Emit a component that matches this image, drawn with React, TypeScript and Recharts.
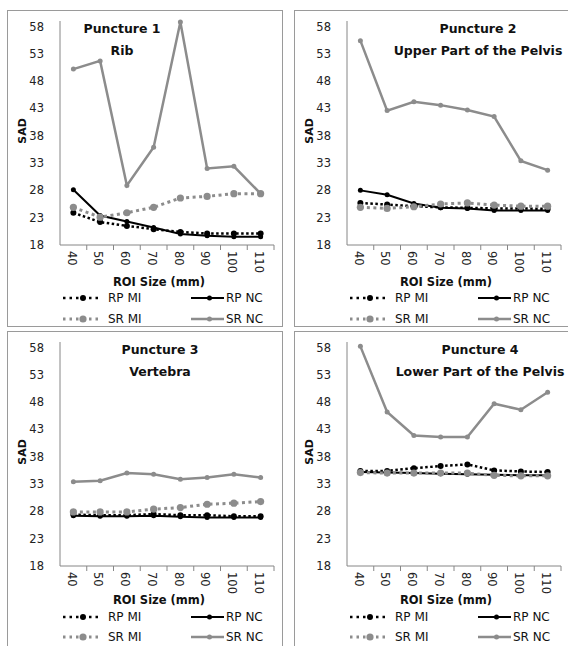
import React from 'react';
import { LineChart, Line, XAxis, YAxis, Legend } from 'recharts';

const roiSizes = ['40', '50', '60', '70', '80', '90', '100', '110'];
const sadTicks = [18, 23, 28, 33, 38, 43, 48, 53, 58];

// Puncture 1 - Rib
const ribRpMi = [23.9, 22.2, 21.5, 20.9, 20.4, 20.1, 20.1, 20.1];
const ribRpNc = [28.1, 23.4, 22.3, 21.2, 20.0, 19.7, 19.5, 19.5];
const ribSrMi = [24.9, 23.1, 23.9, 24.9, 26.6, 26.9, 27.4, 27.4];
const ribSrNc = [50.2, 51.7, 28.9, 35.9, 58.8, 32.0, 32.4, 27.4];

// Puncture 2 - Upper Part of the Pelvis
const upperRpMi = [25.7, 25.4, 25.1, 24.9, 24.8, 24.7, 24.7, 24.6];
const upperRpNc = [28.0, 27.2, 25.6, 24.8, 24.7, 24.3, 24.3, 24.3];
const upperSrMi = [24.9, 24.7, 25.0, 25.5, 25.7, 25.3, 25.1, 25.1];
const upperSrNc = [55.4, 42.6, 44.2, 43.6, 42.7, 41.5, 33.4, 31.7];

// Puncture 3 - Vertebra
const vertRpMi = [27.4, 27.3, 27.3, 27.5, 27.3, 27.3, 27.1, 27.1];
const vertRpNc = [27.2, 27.1, 27.1, 27.2, 27.0, 26.9, 26.9, 26.9];
const vertSrMi = [27.9, 27.9, 27.9, 28.4, 28.7, 29.3, 29.5, 29.8];
const vertSrNc = [33.4, 33.6, 35.0, 34.8, 33.9, 34.2, 34.8, 34.2];

// Puncture 4 - Lower Part of the Pelvis
const lowerRpMi = [35.4, 35.4, 35.9, 36.3, 36.6, 35.5, 35.3, 35.2];
const lowerRpNc = [35.2, 35.1, 35.0, 34.9, 34.8, 34.7, 34.6, 34.6];
const lowerSrMi = [35.1, 35.0, 35.0, 35.0, 35.0, 34.6, 34.5, 34.5];
const lowerSrNc = [58.2, 46.2, 41.9, 41.6, 41.6, 47.7, 46.6, 49.8];

const FONT = '"DejaVu Sans", sans-serif';
const GRAY = '#8c8c8c';
const AXIS = '#868686';

const W = 276;
const H = 317;
const LEFT = 53;
const RIGHT = 9;
const TOP = 11;
const XH = 82;
const BAND = (W - LEFT - RIGHT) / roiSizes.length;

const SERIES = [
  { key: 'rpMi', name: 'RP MI', color: '#000', width: 2.5, dash: '2.5 2.5', r: 3 },
  { key: 'rpNc', name: 'RP NC', color: '#000', width: 2, dash: undefined, r: 2.5 },
  { key: 'srMi', name: 'SR MI', color: GRAY, width: 3, dash: '3 3.5', r: 3.6 },
  { key: 'srNc', name: 'SR NC', color: GRAY, width: 2.5, dash: undefined, r: 2.5 },
];

const makeRows = (rpMi: number[], rpNc: number[], srMi: number[], srNc: number[]) =>
  roiSizes.map((roi, i) => ({ roi, rpMi: rpMi[i], rpNc: rpNc[i], srMi: srMi[i], srNc: srNc[i] }));

const panels = [
  { left: 7, top: 10, title: ['Puncture 1', 'Rib'], cx: 114, axisTitleY: 37, legendY: [288, 309], rows: makeRows(ribRpMi, ribRpNc, ribSrMi, ribSrNc) },
  { left: 294, top: 10, title: ['Puncture 2', 'Upper Part of the Pelvis'], cx: 183, axisTitleY: 37, legendY: [288, 309], rows: makeRows(upperRpMi, upperRpNc, upperSrMi, upperSrNc) },
  { left: 7, top: 331, title: ['Puncture 3', 'Vertebra'], cx: 152, axisTitleY: 34, legendY: [286, 306], rows: makeRows(vertRpMi, vertRpNc, vertSrMi, vertSrNc) },
  { left: 294, top: 331, title: ['Puncture 4', 'Lower Part of the Pelvis'], cx: 185, axisTitleY: 34, legendY: [286, 306], rows: makeRows(lowerRpMi, lowerRpNc, lowerSrMi, lowerSrNc) },
];

const XTick = (props: any) => {
  const { x, y, payload } = props;
  return (
    <g>
      <line x1={x + BAND / 2} y1={y} x2={x + BAND / 2} y2={y + 5} stroke={AXIS} strokeWidth={1} />
      <text
        transform={`translate(${x},${y + 6}) rotate(90)`}
        dy="0.5em"
        textAnchor="start"
        fontSize={11.5}
        fontFamily={FONT}
        fill="#222"
      >
        {payload.value}
      </text>
    </g>
  );
};

const legendPos = [
  { line: 56, len: 36, text: 101 },
  { line: 184, len: 33, text: 219 },
];

const makeLegend = (rowY: number[]) => () => (
  <div style={{ position: 'relative', width: W, height: 0 }}>
    {SERIES.map((s, i) => {
      const p = legendPos[i % 2];
      const cy = i < 2 ? rowY[0] : rowY[1];
      return (
        <React.Fragment key={s.key}>
          <svg
            width={p.len}
            height={10}
            style={{ position: 'absolute', left: p.line, top: cy - 5, overflow: 'visible' }}
          >
            <line
              x1={0}
              y1={5}
              x2={p.len}
              y2={5}
              stroke={s.color}
              strokeWidth={s.width}
              strokeDasharray={s.dash ? '2.5 4' : undefined}
            />
            <circle cx={p.len / 2 + 2} cy={5} r={s.r} fill={s.color} />
          </svg>
          <span
            style={{
              position: 'absolute',
              left: p.text,
              top: cy - 7,
              fontSize: 12,
              lineHeight: '14px',
              fontFamily: FONT,
              color: '#111',
              whiteSpace: 'nowrap',
            }}
          >
            {s.name}
          </span>
        </React.Fragment>
      );
    })}
  </div>
);

const Panel = ({ panel }: { panel: (typeof panels)[number] }) => (
  <div
    style={{
      position: 'absolute',
      left: panel.left,
      top: panel.top,
      width: W,
      height: H,
      border: '1px solid #9a9a9a',
      boxSizing: 'border-box',
      background: '#fff',
    }}
  >
    <div style={{ position: 'absolute', left: -1, top: -1 }}>
      <LineChart
        width={W}
        height={H}
        data={panel.rows}
        margin={{ top: TOP, right: RIGHT, bottom: 0, left: 0 }}
      >
        <XAxis
          dataKey="roi"
          interval={0}
          height={XH}
          padding={{ left: BAND / 2, right: BAND / 2 }}
          tickLine={false}
          tickSize={0}
          tickMargin={0}
          axisLine={{ stroke: AXIS }}
          tick={<XTick />}
          label={({ viewBox }: any) => (
            <text
              x={viewBox.x + viewBox.width / 2 - 8}
              y={viewBox.y + panel.axisTitleY}
              textAnchor="middle"
              dominantBaseline="central"
              fontSize={11.5}
              fontWeight="bold"
              fontFamily={FONT}
              fill="#111"
            >
              ROI Size (mm)
            </text>
          )}
        />
        <YAxis
          type="number"
          domain={[18, 59]}
          ticks={sadTicks}
          width={LEFT}
          tickLine={false}
          tickSize={0}
          tickMargin={16}
          axisLine={{ stroke: AXIS }}
          tick={{ fontSize: 11.5, fontFamily: FONT, fill: '#222' }}
          label={() => (
            <text
              transform={`translate(15,${TOP + 110}) rotate(-90)`}
              textAnchor="middle"
              dominantBaseline="central"
              fontSize={11}
              fontWeight="bold"
              fontFamily={FONT}
              fill="#111"
            >
              SAD
            </text>
          )}
        />
        <Legend content={makeLegend(panel.legendY)} wrapperStyle={{ left: 0, top: 0, width: W, height: 0 }} />
        {SERIES.map((s) => (
          <Line
            key={s.key}
            type="linear"
            dataKey={s.key}
            name={s.name}
            stroke={s.color}
            strokeWidth={s.width}
            strokeDasharray={s.dash}
            dot={{ r: s.r, fill: s.color, stroke: s.color, strokeWidth: 0, strokeDasharray: '' }}
            isAnimationActive={false}
          />
        ))}
      </LineChart>
    </div>
    {panel.title.map((t, i) => (
      <div
        key={t}
        style={{
          position: 'absolute',
          left: panel.cx - 150,
          width: 300,
          top: (i === 0 ? 18 : 40) - 9,
          height: 18,
          lineHeight: '18px',
          textAlign: 'center',
          fontFamily: FONT,
          fontWeight: 'bold',
          fontSize: 12.5,
          color: '#111',
          whiteSpace: 'nowrap',
        }}
      >
        {t}
      </div>
    ))}
  </div>
);

export default function App() {
  return (
    <div style={{ position: 'absolute', left: 0, top: 0, width: 568, height: 646, overflow: 'hidden', background: '#fff' }}>
      {panels.map((p, i) => (
        <Panel key={i} panel={p} />
      ))}
    </div>
  );
}
